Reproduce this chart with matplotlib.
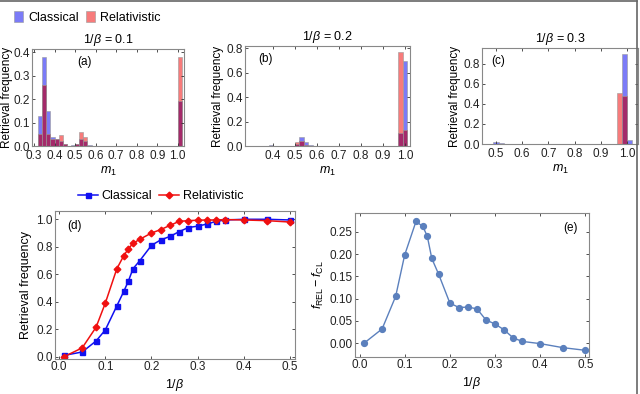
import numpy as np
import matplotlib
matplotlib.use("Agg")
import matplotlib.pyplot as plt
from matplotlib.lines import Line2D
from matplotlib.patches import Patch

plt.rcParams['font.family'] = ['Liberation Sans', 'DejaVu Sans']
plt.rcParams['mathtext.fontset'] = 'custom'
plt.rcParams['mathtext.it'] = 'Liberation Sans:italic'
plt.rcParams['mathtext.rm'] = 'Liberation Sans'

# ---- histogram data (bin left edges, width 0.02) ----
a_edges = [0.32, 0.34, 0.36, 0.38, 0.40, 0.42, 0.44, 0.46, 0.48, 0.50, 0.52, 0.54, 0.56, 1.00]
a_cl    = [0.13, 0.38, 0.15, 0.04, 0.03, 0.02, 0.01, 0.0, 0.003, 0.01, 0.03, 0.02, 0.005, 0.19]
a_rel   = [0.05, 0.26, 0.05, 0.03, 0.03, 0.045, 0.01, 0.0, 0.0, 0.01, 0.06, 0.04, 0.0, 0.38]

b_edges = [0.38, 0.40, 0.50, 0.52, 0.54, 0.56, 0.97, 0.99]
b_cl    = [0.01, 0.003, 0.02, 0.07, 0.035, 0.01, 0.11, 0.70]
b_rel   = [0.0, 0.0, 0.03, 0.04, 0.01, 0.0, 0.77, 0.13]

c_edges = [0.49, 0.51, 0.96, 0.98, 1.00]
c_cl    = [0.02, 0.01, 0.0, 0.90, 0.04]
c_rel   = [0.005, 0.0, 0.51, 0.48, 0.0]

bin_width = 0.02

# ---- curve data ----
inv_beta = [0.01, 0.05, 0.08, 0.10, 0.125, 0.14, 0.15, 0.16, 0.175, 0.20, 0.22,
            0.24, 0.26, 0.28, 0.30, 0.32, 0.34, 0.36, 0.40, 0.45, 0.50]
classical = [0.01, 0.035, 0.115, 0.195, 0.37, 0.475, 0.55, 0.64, 0.70, 0.81, 0.85,
             0.875, 0.91, 0.94, 0.95, 0.965, 0.985, 0.995, 1.0, 1.0, 0.995]
relativistic = [0.0, 0.065, 0.215, 0.39, 0.64, 0.735, 0.785, 0.825, 0.855, 0.90, 0.925,
                0.955, 0.985, 0.99, 0.993, 0.995, 0.995, 0.998, 0.995, 0.99, 0.98]
difference = [0.0, 0.032, 0.105, 0.198, 0.273, 0.262, 0.240, 0.190, 0.155, 0.090, 0.080,
              0.081, 0.077, 0.052, 0.043, 0.030, 0.012, 0.004, -0.001, -0.010, -0.016]

BLUE_H = '#7b7bf7'
RED_H = '#f77b7b'
OVER_H = '#a42a6a'
EDGE_H = '#9a9a9a'

fig = plt.figure(figsize=(6.4, 3.94), dpi=100)

tick_kw = dict(direction='in', labelsize=8.5, length=2.5, width=0.6, colors='#333333',
               labelcolor='#222222', top=True, right=True, pad=1.5)

def style_ax(ax):
    for s in ax.spines.values():
        s.set_color('#888888')
        s.set_linewidth(0.8)
    ax.tick_params(**tick_kw)

def hist_panel(rect, edges, cl, rel, xlim, ylim, xticks, xlabels, yticks, ylabels, title, tag, tagx, ylpad):
    ax = fig.add_axes(rect)
    e = np.array(edges)
    c = np.array(cl)
    r = np.array(rel)
    ov = np.minimum(c, r)
    ax.bar(e, c, width=bin_width, align='edge', color=BLUE_H, edgecolor=EDGE_H, linewidth=0.4)
    ax.bar(e, r, width=bin_width, align='edge', color=RED_H, edgecolor=EDGE_H, linewidth=0.4)
    ax.bar(e, ov, width=bin_width, align='edge', color=OVER_H, edgecolor=EDGE_H, linewidth=0.4)
    ax.set_xlim(*xlim)
    ax.set_ylim(*ylim)
    ax.set_xticks(xticks)
    ax.set_xticklabels(xlabels)
    ax.set_yticks(yticks)
    ax.set_yticklabels(ylabels)
    style_ax(ax)
    ax.tick_params(axis='x', pad=3)
    ax.set_title(title, fontsize=9, pad=4)
    ax.set_xlabel(r'$m_1$', fontsize=9, labelpad=2)
    ax.set_ylabel('Retrieval frequency', fontsize=8.5, labelpad=ylpad)
    ax.text(tagx, 0.93, tag, transform=ax.transAxes, fontsize=8.5, va='top', ha='left')
    return ax

hist_panel([0.0500, 0.6294, 0.2374, 0.2462], a_edges, a_cl, a_rel,
           (0.29, 1.03), (0, 0.414),
           [0.3, 0.4, 0.5, 0.6, 0.7, 0.8, 0.9, 1.0],
           ['0.3', '0.4', '0.5', '0.6', '0.7', '0.8', '0.9', '1.0'],
           [0, 0.1, 0.2, 0.3, 0.4], ['0.0', '0.1', '0.2', '0.3', '0.4'],
           r'$1/\beta$ = 0.1', '(a)', 0.3, 0.5)

hist_panel([0.3828, 0.6294, 0.2578, 0.2538], b_edges, b_cl, b_rel,
           (0.273, 1.023), (0, 0.82),
           [0.4, 0.5, 0.6, 0.7, 0.8, 0.9, 1.0],
           ['0.4', '0.5', '0.6', '0.7', '0.8', '0.9', '1.0'],
           [0, 0.2, 0.4, 0.6, 0.8], ['0.0', '0.2', '0.4', '0.6', '0.8'],
           r'$1/\beta$ = 0.2', '(b)', 0.08, 2)

hist_panel([0.7531, 0.6345, 0.2438, 0.2437], c_edges, c_cl, c_rel,
           (0.447, 1.042), (0, 0.957),
           [0.5, 0.6, 0.7, 0.8, 0.9, 1.0],
           ['0.5', '0.6', '0.7', '0.8', '0.9', '1.0'],
           [0, 0.2, 0.4, 0.6, 0.8], ['0.0', '0.2', '0.4', '0.6', '0.8'],
           r'$1/\beta$ = 0.3', '(c)', 0.06, 2)

# top legend for histograms
fig.legend(handles=[Patch(facecolor=BLUE_H, edgecolor=EDGE_H, linewidth=0.4, label='Classical'),
                    Patch(facecolor=RED_H, edgecolor=EDGE_H, linewidth=0.4, label='Relativistic')],
           loc='center left', bbox_to_anchor=(0.005, 0.955), ncol=2, frameon=False,
           fontsize=9, handlelength=0.7, handleheight=0.9, handletextpad=0.4,
           columnspacing=0.6)

# panel (d)
axd = fig.add_axes([0.0859, 0.0888, 0.375, 0.3756])
axd.plot(inv_beta, classical, '-s', color='#1010f0', markersize=3.6, linewidth=1.1, label='Classical')
axd.plot(inv_beta, relativistic, '-D', color='#f01010', markersize=3.4, linewidth=1.1, label='Relativistic')
axd.set_xlim(-0.009, 0.511)
axd.set_ylim(-0.016, 1.06)
axd.set_xticks([0, 0.1, 0.2, 0.3, 0.4, 0.5])
axd.set_xticklabels(['0.0', '0.1', '0.2', '0.3', '0.4', '0.5'])
axd.set_yticks([0, 0.2, 0.4, 0.6, 0.8, 1.0])
axd.set_yticklabels(['0.0', '0.2', '0.4', '0.6', '0.8', '1.0'])
style_ax(axd)
axd.set_xlabel(r'$1/\beta$', fontsize=9, labelpad=3)
axd.set_ylabel('Retrieval frequency', fontsize=9, labelpad=3)
axd.text(0.05, 0.94, '(d)', transform=axd.transAxes, fontsize=8.5, va='top', ha='left')
axd.legend(loc='lower center', bbox_to_anchor=(0.44, 1.01), ncol=2, frameon=False,
           fontsize=9, handlelength=1.6, handletextpad=0.3, columnspacing=0.6,
           borderaxespad=0.2)

# panel (e)
axe = fig.add_axes([0.5547, 0.0939, 0.3656, 0.3655])
axe.plot(inv_beta, difference, '-o', color='#5b80bd', markersize=4.2, linewidth=1.0)
axe.set_xlim(-0.01, 0.508)
axe.set_ylim(-0.031, 0.292)
axe.set_xticks([0, 0.1, 0.2, 0.3, 0.4, 0.5])
axe.set_xticklabels(['0.0', '0.1', '0.2', '0.3', '0.4', '0.5'])
axe.set_yticks([0, 0.05, 0.10, 0.15, 0.20, 0.25])
axe.set_yticklabels(['0.00', '0.05', '0.10', '0.15', '0.20', '0.25'])
style_ax(axe)
axe.set_xlabel(r'$1/\beta$', fontsize=9, labelpad=3)
axe.set_ylabel(r'$f_{\mathrm{REL}}-f_{\mathrm{CL}}$', fontsize=9, labelpad=3)
axe.text(0.95, 0.94, '(e)', transform=axe.transAxes, fontsize=8.5, va='top', ha='right')

# outer frame lines (top and right)
fig.add_artist(Line2D([0, 0.995], [0.997, 0.997], transform=fig.transFigure, color='#666666', linewidth=1.2))
fig.add_artist(Line2D([0.995, 0.995], [0, 0.997], transform=fig.transFigure, color='#666666', linewidth=1.2))

fig.savefig('out.png', dpi=100)
